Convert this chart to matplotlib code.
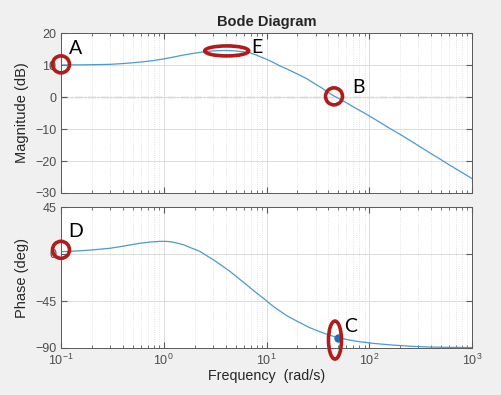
import matplotlib
matplotlib.use('Agg')
import matplotlib.pyplot as plt
from matplotlib.patches import Ellipse
from matplotlib.transforms import ScaledTranslation
from matplotlib.ticker import LogLocator
import numpy as np

# magnitude curve
mag_freq = [0.1, 0.15, 0.2, 0.3, 0.4, 0.5, 0.63, 0.8, 1.0, 1.25, 1.55, 2.0, 2.43, 3.0, 3.5,
            4.0, 5.0, 6.0, 6.9, 8.0, 8.65, 10, 12, 13.5, 15.7, 20, 25, 30, 35, 40, 45, 50,
            60, 70, 85, 100, 130, 160, 200, 250, 300, 400, 500, 600, 700, 850, 1000]
mag_db = [10.0, 10.05, 10.1, 10.2, 10.45, 10.7, 11.0, 11.4, 11.9, 12.5, 13.1, 13.7, 14.1,
          14.4, 14.5, 14.55, 14.4, 14.1, 13.8, 13.1, 12.6, 11.8, 10.6, 9.7, 8.8, 7.2, 5.6,
          4.0, 2.7, 1.4, 0.4, -0.4, -1.8, -3.1, -4.6, -5.9, -8.1, -9.9, -11.7, -13.6, -15.2,
          -17.7, -19.6, -21.2, -22.5, -24.1, -25.5]

# phase curve
ph_freq = [0.1, 0.15, 0.2, 0.3, 0.375, 0.48, 0.587, 0.75, 0.92, 1.05, 1.15, 1.3, 1.55, 1.85,
           2.25, 2.6, 3.04, 3.6, 4.42, 5.3, 6.4, 7.7, 9.3, 11, 13, 16, 21, 26, 33, 40, 50,
           65, 81, 110, 170, 250, 360, 600, 1000]
ph_deg = [2.2, 3.0, 3.9, 5.5, 7.0, 8.8, 10.3, 11.5, 12.1, 12.1, 11.8, 10.8, 8.9, 5.8,
          2.5, -1.5, -5.5, -10.5, -16.7, -23, -29.5, -36, -42.3, -48.3, -53.5, -59.5, -65.6,
          -70.3, -74.4, -77.4, -80.2, -82.5, -84, -85.6, -87.2, -88.3, -89, -89.4, -89.6]

# marked point on the phase curve
c_point = (50, -80.2)

# annotation spots (freq, value) for the red rings
ring_a = (0.1, 10.2)
ring_e = (4.1, 14.4)
ring_b = (45.4, 0.2)
ring_d = (0.1, 4.0)
ring_c = (46.4, -82.4)

blue = '#4a9bd1'
red = '#b01c1c'
axcol = '#5a5a5a'

fig = plt.figure(figsize=(5.01, 3.95), dpi=100, facecolor='#f0f0f0')
plt.rcParams['font.family'] = ['Liberation Sans', 'DejaVu Sans']

ax1 = fig.add_axes([61 / 501, 1 - 193 / 395, 411 / 501, 160 / 395])
ax2 = fig.add_axes([61 / 501, 1 - 348 / 395, 411 / 501, 141 / 395])


def style(ax):
    ax.set_facecolor('white')
    ax.set_xscale('log')
    ax.set_xlim(0.1, 1000)
    ax.xaxis.set_minor_locator(LogLocator(base=10, subs=np.arange(2, 10)))
    ax.grid(True, which='major', color='#dcdcdc', lw=0.7)
    ax.grid(True, which='minor', axis='x', color='#dcdcdc', lw=0.6, ls=':')
    ax.tick_params(which='both', direction='in', top=True, right=True, colors=axcol,
                   labelsize=9, labelcolor='#4d4d4d')
    ax.tick_params(which='major', length=4)
    ax.tick_params(which='minor', length=2)
    for s in ax.spines.values():
        s.set_color(axcol)
        s.set_linewidth(0.7)


style(ax1)
style(ax2)

ax1.plot(mag_freq, mag_db, color=blue, lw=0.9)
ax1.axhline(0, color='#8c8c8c', lw=0.9, ls='-.', zorder=1.5)
ax1.set_ylim(-30, 20)
ax1.set_yticks([-30, -20, -10, 0, 10, 20])
ax1.tick_params(axis='x', labelbottom=False)
ax1.set_ylabel('Magnitude (dB)', fontsize=10.5, color='#262626', labelpad=2)
ax1.set_title('Bode Diagram', fontsize=10.5, fontweight='bold', color='#262626', pad=5)

ax2.plot(ph_freq, ph_deg, color=blue, lw=0.9)
ax2.plot(*c_point, 'o', color='#1f6fbf', ms=5, zorder=3)
ax2.set_ylim(-90, 45)
ax2.set_yticks([-90, -45, 0, 45])
ax2.set_ylabel('Phase (deg)', fontsize=10.5, color='#262626', labelpad=2)
ax2.set_xlabel('Frequency  (rad/s)', fontsize=10.3, color='#262626', labelpad=1)
ax2.yaxis.set_label_coords(-0.078, 0.5)
ax1.yaxis.set_label_coords(-0.078, 0.5)


def ring(ax, pt, w, h, letter, dx, dy):
    tr = fig.dpi_scale_trans + ScaledTranslation(pt[0], pt[1], ax.transData)
    e = Ellipse((0, 0), w / 100, h / 100, transform=tr, fill=False,
                edgecolor=red, lw=2.6, clip_on=False, zorder=5)
    ax.add_patch(e)
    ax.annotate(letter, xy=pt, xytext=(dx, dy), textcoords='offset pixels',
                ha='center', va='center', fontsize=14, family=['Lato', 'DejaVu Sans'],
                color='black', annotation_clip=False)


ring(ax1, ring_a, 17, 17, 'A', 15, 16)
ring(ax1, ring_e, 44, 10, 'E', 30, 3)
ring(ax1, ring_b, 17, 17, 'B', 24, 9)
ring(ax2, ring_d, 17, 17, 'D', 15, 18)
ring(ax2, ring_c, 13, 38, 'C', 16, 14)

fig.savefig('out.png', dpi=100, facecolor=fig.get_facecolor())
